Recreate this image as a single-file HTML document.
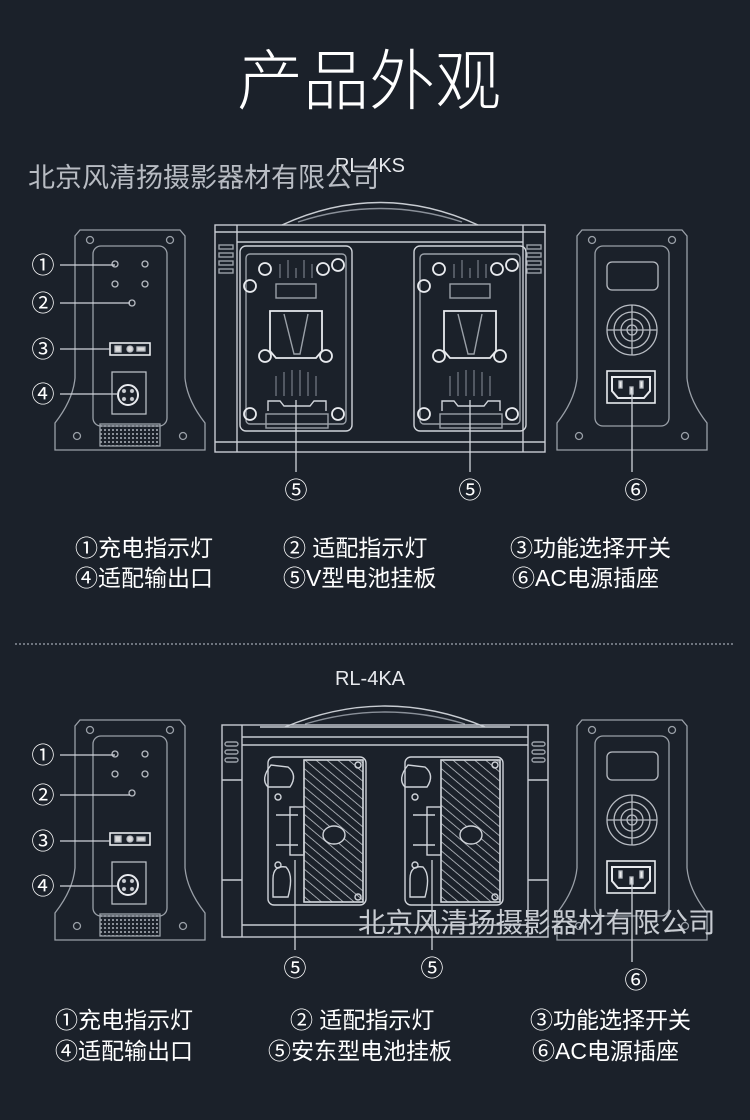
<!DOCTYPE html>
<html><head><meta charset="utf-8"><style>
html,body{margin:0;padding:0;background:#1b212a;}
body{width:750px;height:1120px;overflow:hidden;}
svg{display:block}
text{font-family:"Liberation Sans","Noto Sans CJK SC",sans-serif;}
</style></head><body>
<svg width="750" height="1120" viewBox="0 0 750 1120" xmlns="http://www.w3.org/2000/svg">
<rect width="750" height="1120" fill="#1b212a"/>
<defs>
<pattern id="dots" width="4" height="4" patternUnits="userSpaceOnUse"><rect x="1" y="1" width="2" height="2" fill="#8a9099"/></pattern>
<pattern id="hatch" width="7" height="7" patternUnits="userSpaceOnUse" patternTransform="rotate(-50)"><line x1="0" y1="0" x2="0" y2="7" stroke="#c8ccd2" stroke-width="1.5"/></pattern>
<g id="lpanel" fill="none" stroke="#9aa0a8" stroke-width="1.3">
  <path d="M25,2 H125 L130,8 V150 Q132,172 150,195 V222 H0 V195 Q18,172 20,150 V8 Z"/>
  <rect x="38" y="18" width="74" height="180" rx="8"/>
  <circle cx="35" cy="12" r="3.5"/><circle cx="115" cy="12" r="3.5"/>
  <circle cx="22" cy="208" r="3.5"/><circle cx="128" cy="208" r="3.5"/>
</g>
<g id="front" fill="none" stroke="#b8bcc3" stroke-width="1.3">
  <use href="#lpanel"/>
  <rect x="45" y="196" width="60" height="22" fill="url(#dots)" stroke="#9aa0a8"/>
  <circle cx="60" cy="36" r="3"/><circle cx="90" cy="36" r="3"/>
  <circle cx="60" cy="56" r="3"/><circle cx="90" cy="56" r="3"/><circle cx="77" cy="75" r="3"/>
  <rect x="55" y="115" width="40" height="12" stroke="#e8eaee" stroke-width="1.6"/>
  <rect x="60" y="118" width="6" height="6" fill="#ddd"/><circle cx="75" cy="121" r="3" fill="#ddd"/><rect x="82" y="119" width="8" height="4" fill="#ddd"/>
  <rect x="57" y="144" width="34" height="42"/>
  <circle cx="73" cy="167" r="10" stroke="#e8eaee" stroke-width="2"/>
  <circle cx="69" cy="163" r="1.5" fill="#ddd"/><circle cx="77" cy="163" r="1.5" fill="#ddd"/><circle cx="69" cy="171" r="1.5" fill="#ddd"/><circle cx="77" cy="171" r="1.5" fill="#ddd"/>
</g>
<g id="back" fill="none" stroke="#b8bcc3" stroke-width="1.3">
  <use href="#lpanel"/>
  <rect x="50" y="34" width="51" height="28" rx="5"/>
  <circle cx="75" cy="102" r="25"/><circle cx="75" cy="102" r="18"/><circle cx="75" cy="102" r="11"/><circle cx="75" cy="102" r="5"/>
  <line x1="50" y1="102" x2="100" y2="102"/><line x1="75" y1="77" x2="75" y2="127"/>
  <rect x="50" y="143" width="48" height="32" stroke="#e8eaee" stroke-width="1.6"/>
  <path d="M55,149 H93 V163 L87,170 H61 L55,163 Z" stroke="#e8eaee" stroke-width="2"/>
  <rect x="62" y="153" width="3" height="7" fill="#eee"/><rect x="83" y="153" width="3" height="7" fill="#eee"/><rect x="73" y="159" width="3" height="7" fill="#eee"/>
</g>
<g id="vplate" fill="none" stroke="#d0d4da" stroke-width="1.4">
  <rect x="0" y="0" width="112" height="185" rx="6"/>
  <rect x="6" y="8" width="100" height="170" rx="4" stroke="#9aa0a8"/>
  <rect x="36" y="38" width="40" height="14" stroke="#9aa0a8"/>
  <path d="M30,65 H82 V105 L76,112 H36 L30,105 Z" stroke="#e8eaee" stroke-width="1.8"/>
  <path d="M44,68 L54,108 H60 L68,68" stroke="#9aa0a8"/>
  <g stroke="#e8eaee" stroke-width="1.8">
  <circle cx="25" cy="23" r="6"/><circle cx="83" cy="23" r="6"/><circle cx="98" cy="19" r="6"/><circle cx="10" cy="40" r="6"/>
  <circle cx="25" cy="110" r="6"/><circle cx="86" cy="110" r="6"/><circle cx="10" cy="168" r="6"/><circle cx="98" cy="168" r="6"/>
  </g>
  <path d="M28,165 V155 H40 L44,160 H70 L74,155 H86 V165" />
  <rect x="26" y="168" width="62" height="14" stroke="#9aa0a8"/>
  <g stroke="#8a9099" stroke-width="1"><line x1="36" y1="130" x2="36" y2="150"/><line x1="44" y1="126" x2="44" y2="150"/><line x1="52" y1="124" x2="52" y2="150"/><line x1="60" y1="124" x2="60" y2="150"/><line x1="68" y1="126" x2="68" y2="150"/><line x1="76" y1="130" x2="76" y2="150"/>
  <line x1="40" y1="18" x2="40" y2="32"/><line x1="48" y1="14" x2="48" y2="32"/><line x1="56" y1="22" x2="56" y2="32"/><line x1="64" y1="14" x2="64" y2="32"/><line x1="72" y1="18" x2="72" y2="32"/></g>
</g>
<g id="aplate" fill="none" stroke="#d0d4da" stroke-width="1.4">
  <rect x="0" y="0" width="98" height="148" rx="6"/>
  <rect x="36" y="3" width="59" height="142" fill="url(#hatch)"/>
  <rect x="36" y="3" width="59" height="142"/>
  <ellipse cx="66" cy="78" rx="11" ry="9" fill="#1b212a"/>
  <path d="M3,8 Q-8,22 0,30 H22 Q30,18 20,10 Z"/>
  <path d="M5,122 Q5,108 18,110 Q26,118 20,140 H5 Z"/>
  <line x1="8" y1="58" x2="30" y2="58"/><line x1="8" y1="88" x2="30" y2="88"/>
  <rect x="22" y="50" width="14" height="48"/>
  <circle cx="10" cy="40" r="3"/><circle cx="10" cy="108" r="3"/><circle cx="90" cy="8" r="3"/><circle cx="90" cy="140" r="3"/>
</g>
</defs>

<text x="369" y="104" fill="#ffffff" font-size="66" text-anchor="middle" font-weight="300" font-family="Noto Sans CJK SC,sans-serif">产品外观</text>
<text x="370" y="172" fill="#e8eaee" font-size="20" text-anchor="middle">RL-4KS</text>
<text x="28" y="187" fill="#b8bcc3" font-size="27" font-family="Noto Sans CJK SC,sans-serif">北京风清扬摄影器材有限公司</text>

<!-- Section 1 -->
<use href="#front" x="55" y="228"/>
<use href="#back" x="557" y="228"/>
<g fill="none" stroke="#c8ccd2" stroke-width="1.4">
  <path d="M282,225 Q380,180 478,225"/>
  <path d="M298,222 Q380,195 462,222" stroke="#8a9099"/>
  <rect x="215" y="225" width="330" height="227"/>
  <line x1="215" y1="232" x2="545" y2="232"/><line x1="237" y1="242" x2="523" y2="242"/>
  <line x1="237" y1="225" x2="237" y2="452"/><line x1="523" y1="225" x2="523" y2="452"/>
  <line x1="215" y1="442" x2="545" y2="442"/>
  <g stroke="#9aa0a8"><rect x="219" y="245" width="14" height="4"/><rect x="219" y="253" width="14" height="4"/><rect x="219" y="261" width="14" height="4"/><rect x="219" y="269" width="14" height="4"/>
  <rect x="527" y="245" width="14" height="4"/><rect x="527" y="253" width="14" height="4"/><rect x="527" y="261" width="14" height="4"/><rect x="527" y="269" width="14" height="4"/></g>
</g>
<use href="#vplate" x="240" y="246"/>
<use href="#vplate" x="414" y="246"/>
<g stroke="#d0d4da" stroke-width="1.3">
  <line x1="60" y1="265" x2="115" y2="265"/><line x1="60" y1="303" x2="130" y2="303"/>
  <line x1="60" y1="349" x2="110" y2="349"/><line x1="60" y1="394" x2="118" y2="394"/>
  <line x1="296" y1="400" x2="296" y2="472"/><line x1="470" y1="400" x2="470" y2="472"/>
  <line x1="632" y1="390" x2="632" y2="472"/>
</g>
<g fill="#ffffff" font-size="23" text-anchor="middle" font-family="Noto Sans CJK SC,sans-serif">
  <text x="43" y="273">①</text><text x="43" y="311">②</text><text x="43" y="357">③</text><text x="43" y="402">④</text>
  <text x="296" y="498">⑤</text><text x="470" y="498">⑤</text><text x="636" y="498">⑥</text>
</g>
<g fill="#ffffff" font-size="23" font-family="Liberation Sans,Noto Sans CJK SC,sans-serif">
  <text x="75" y="556">①充电指示灯</text><text x="283" y="556">② 适配指示灯</text><text x="510" y="556">③功能选择开关</text>
  <text x="75" y="586">④适配输出口</text><text x="283" y="586">⑤V型电池挂板</text><text x="512" y="586">⑥AC电源插座</text>
</g>

<line x1="15" y1="644" x2="735" y2="644" stroke="#8a9099" stroke-width="1.5" stroke-dasharray="2 2"/>
<text x="370" y="685" fill="#e8eaee" font-size="20" text-anchor="middle">RL-4KA</text>

<!-- Section 2 -->
<use href="#front" x="55" y="718"/>
<use href="#back" x="557" y="718"/>
<g fill="none" stroke="#c8ccd2" stroke-width="1.4">
  <path d="M285,727 Q385,685 485,727"/>
  <path d="M305,724 Q385,700 465,724" stroke="#8a9099"/>
  <rect x="222" y="725" width="326" height="212"/>
  <line x1="260" y1="727" x2="510" y2="727"/><line x1="242" y1="737" x2="528" y2="737"/><line x1="242" y1="745" x2="528" y2="745"/>
  <line x1="242" y1="725" x2="242" y2="937"/><line x1="528" y1="725" x2="528" y2="937"/>
  <line x1="242" y1="925" x2="528" y2="925"/>
  <line x1="222" y1="780" x2="242" y2="780"/><line x1="222" y1="880" x2="242" y2="880"/><line x1="528" y1="780" x2="548" y2="780"/><line x1="528" y1="880" x2="548" y2="880"/>
  <g stroke="#9aa0a8"><rect x="225" y="742" width="13" height="4" rx="2"/><rect x="225" y="750" width="13" height="4" rx="2"/><rect x="225" y="758" width="13" height="4" rx="2"/>
  <rect x="532" y="742" width="13" height="4" rx="2"/><rect x="532" y="750" width="13" height="4" rx="2"/><rect x="532" y="758" width="13" height="4" rx="2"/></g>
</g>
<use href="#aplate" x="268" y="757"/>
<use href="#aplate" x="405" y="757"/>
<g stroke="#d0d4da" stroke-width="1.3">
  <line x1="60" y1="755" x2="115" y2="755"/><line x1="60" y1="795" x2="130" y2="795"/>
  <line x1="60" y1="841" x2="110" y2="841"/><line x1="60" y1="886" x2="118" y2="886"/>
  <line x1="295" y1="860" x2="295" y2="950"/><line x1="432" y1="860" x2="432" y2="950"/>
  <line x1="632" y1="880" x2="632" y2="962"/>
</g>
<text x="358" y="932" fill="#c8ccd2" font-size="27.5" font-family="Noto Sans CJK SC,sans-serif">北京风清扬摄影器材有限公司</text>
<g fill="#ffffff" font-size="23" text-anchor="middle" font-family="Noto Sans CJK SC,sans-serif">
  <text x="43" y="763">①</text><text x="43" y="803">②</text><text x="43" y="849">③</text><text x="43" y="894">④</text>
  <text x="295" y="976">⑤</text><text x="432" y="976">⑤</text><text x="636" y="988">⑥</text>
</g>
<g fill="#ffffff" font-size="23" font-family="Liberation Sans,Noto Sans CJK SC,sans-serif">
  <text x="55" y="1028">①充电指示灯</text><text x="290" y="1028">② 适配指示灯</text><text x="530" y="1028">③功能选择开关</text>
  <text x="55" y="1059">④适配输出口</text><text x="268" y="1059">⑤安东型电池挂板</text><text x="532" y="1059">⑥AC电源插座</text>
</g>
</svg>
</body></html>
